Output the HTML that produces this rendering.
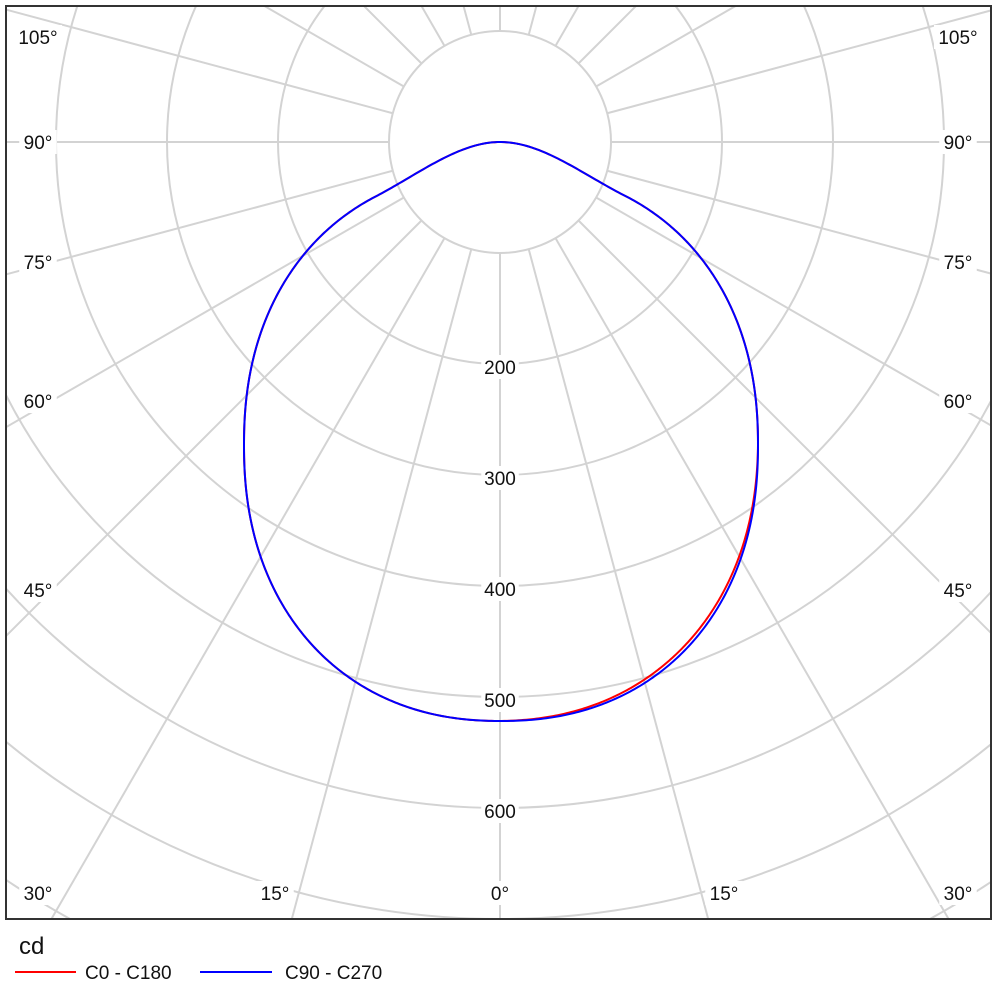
<!DOCTYPE html>
<html><head><meta charset="utf-8"><style>
html,body{margin:0;padding:0;background:#fff;width:1000px;height:1000px;overflow:hidden;font-family:"Liberation Sans","DejaVu Sans",sans-serif}
svg{display:block}
</style></head><body>
<svg id="s" width="1000" height="1000" xmlns="http://www.w3.org/2000/svg" font-family="Liberation Sans, DejaVu Sans, sans-serif">
<defs><clipPath id="c"><rect x="7" y="7" width="983" height="911"/></clipPath></defs>
<rect x="0" y="0" width="1000" height="1000" fill="#fff"/>
<g id="grid" clip-path="url(#c)" stroke="#d3d3d3" stroke-width="2" fill="none"></g>
<g id="curves" clip-path="url(#c)" fill="none" stroke-width="2"></g>
<g id="labels" font-size="19" fill="#111"></g>
<rect x="6" y="6" width="985" height="913" fill="none" stroke="#333" stroke-width="2"/>
<text x="19" y="954" font-size="24" fill="#111">cd</text>
<line x1="15" y1="972" x2="76" y2="972" stroke="#f00" stroke-width="2"/>
<text x="85" y="979" font-size="19" fill="#111">C0 - C180</text>
<line x1="200" y1="972" x2="272" y2="972" stroke="#00f" stroke-width="2"/>
<text x="285" y="979" font-size="19" fill="#111">C90 - C270</text>
</svg>
<script>
var NS="http://www.w3.org/2000/svg",cx=500,cy=142;
function el(p,t,a){var e=document.createElementNS(NS,t);for(var i in a)e.setAttribute(i,a[i]);p.appendChild(e);return e;}
var g=document.getElementById('grid');
for(var r=1;r<=12;r++)el(g,'circle',{cx:cx,cy:cy,r:r*111});
for(var a=0;a<360;a+=15){var t=a*Math.PI/180,s=Math.sin(t),c=Math.cos(t);
el(g,'line',{x1:cx+111*s,y1:cy+111*c,x2:cx+1600*s,y2:cy+1600*c});}
var L=document.getElementById('labels');
function lab(x,y,txt){var w=txt.length*10.5+6;el(L,'rect',{x:x-w/2,y:y-12,width:w,height:24,fill:'#fff'});var t=el(L,'text',{x:x,y:y+7,'text-anchor':'middle'});t.textContent=txt;}
[[2,367],[3,478],[4,589],[5,700],[6,811]].forEach(function(v){lab(500,v[1],(v[0]*100)+'');});
[['105°',37],['90°',142],['75°',262],['60°',401],['45°',590],['30°',893]].forEach(function(v){lab(38,v[1],v[0]);lab(958,v[1],v[0]);});
lab(275,893,'15°');lab(500,893,'0°');lab(724,893,'15°');
var ex=501,ey=445,A=257,B=276,p=2.2;
function pts(red){var out=[];for(var d=0;d<=360;d+=0.5){var t=d*Math.PI/180,c=Math.cos(t),s=Math.sin(t);
var x=ex+A*(c<0?-1:1)*Math.pow(Math.abs(c),2/p),y=ey+B*(s<0?-1:1)*Math.pow(Math.abs(s),2/p);
if(y<ey){var u=Math.abs(x-500)/125;if(u<1){y-=27*(1-u)*(1-u)*(1+2*u);}}
if(red){var w=4*Math.max(0,c)*Math.max(0,s);var f=1-0.006*w;x=ex+(x-ex)*f;y=ey+(y-ey)*f;}
out.push(x.toFixed(2)+' '+y.toFixed(2));}
return 'M'+out.join('L')+'Z';}
var C=document.getElementById('curves');
el(C,'path',{d:pts(true),stroke:'#f00'});
el(C,'path',{d:pts(false),stroke:'#00f'});
</script>
</body></html>
